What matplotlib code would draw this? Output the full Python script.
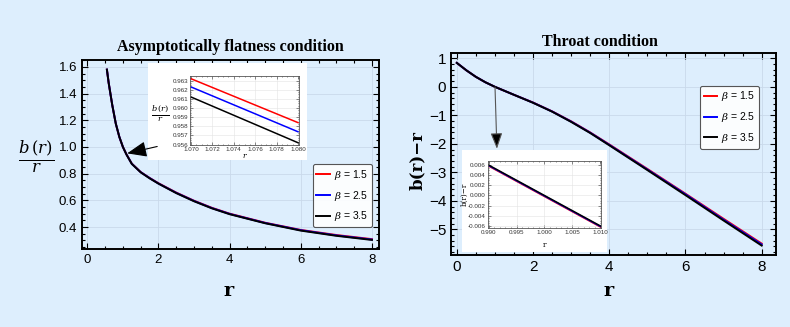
import matplotlib
matplotlib.use("Agg")
import matplotlib.pyplot as plt
from matplotlib.patches import Rectangle, FancyArrowPatch
from matplotlib.ticker import MultipleLocator, FormatStrFormatter

BG = "#ddeefd"
GRID = "#c9d9ea"

# ---------------- data ----------------
betas = ["1.5", "2.5", "3.5"]
colors = ["#ff0000", "#0000ff", "#000000"]

# left main: b(r)/r
r_left = [0.55, 0.6, 0.7, 0.8, 0.9, 1.0, 1.1, 1.25, 1.5, 1.75, 2.0, 2.5, 3.0, 3.5, 4.0, 5.0, 6.0, 7.0, 8.0]
bl_red = [1.58, 1.48, 1.315, 1.175, 1.075, 1.0, 0.945, 0.875, 0.812, 0.768, 0.728, 0.658, 0.597, 0.544, 0.500, 0.432, 0.378, 0.340, 0.309]
bl_blue = [1.58, 1.48, 1.315, 1.175, 1.075, 1.0, 0.944, 0.874, 0.811, 0.767, 0.726, 0.656, 0.595, 0.542, 0.498, 0.430, 0.376, 0.337, 0.306]
bl_black = [1.58, 1.48, 1.315, 1.175, 1.075, 1.0, 0.943, 0.873, 0.810, 0.765, 0.725, 0.654, 0.593, 0.540, 0.496, 0.428, 0.373, 0.334, 0.303]

# left inset
r_in_l = [1.070, 1.080]
il_red = [0.9632, 0.9584]
il_blue = [0.9623, 0.9574]
il_black = [0.9612, 0.9562]

# right main: b(r) - r
r_right = [0.0, 0.25, 0.5, 0.75, 1.0, 1.5, 2.0, 2.5, 3.0, 3.5, 4.0, 5.0, 6.0, 7.0, 8.0]
br_red = [0.84, 0.58, 0.35, 0.16, 0.0, -0.28, -0.55, -0.86, -1.21, -1.60, -2.02, -2.88, -3.75, -4.63, -5.50]
br_blue = [0.84, 0.58, 0.35, 0.16, 0.0, -0.28, -0.555, -0.865, -1.22, -1.61, -2.035, -2.90, -3.77, -4.66, -5.53]
br_black = [0.84, 0.58, 0.35, 0.16, 0.0, -0.28, -0.56, -0.87, -1.23, -1.62, -2.05, -2.92, -3.80, -4.69, -5.57]

# right inset
r_in_r = [0.990, 1.010]
ir_red = [0.0058, -0.0062]
ir_blue = [0.0059, -0.0061]
ir_black = [0.0060, -0.0060]

plt.rcParams["font.family"] = ["Liberation Sans", "DejaVu Sans"]
plt.rcParams["mathtext.fontset"] = "dejavuserif"

fig = plt.figure(figsize=(7.9, 3.27), dpi=100)
fig.patch.set_facecolor(BG)


def style_axes(ax, lw=1.4, size=9.5, major_len=4, minor_len=2):
    ax.set_facecolor(BG)
    for s in ax.spines.values():
        s.set_linewidth(lw)
        s.set_color("black")
    ax.tick_params(which="both", direction="in", top=True, right=True, labelsize=size, width=0.8)
    ax.tick_params(which="major", length=major_len)
    ax.tick_params(which="minor", length=minor_len)
    ax.grid(True, which="major", color=GRID, lw=0.6)
    ax.set_axisbelow(True)


def style_inset(ax, size=4.5):
    ax.set_facecolor("white")
    for s in ax.spines.values():
        s.set_linewidth(0.6)
        s.set_color("#555555")
    ax.tick_params(which="both", direction="in", top=True, right=True, labelsize=size, width=0.4, pad=1.5,
                   colors="#333333")
    ax.tick_params(which="major", length=2)
    ax.tick_params(which="minor", length=1)
    ax.grid(True, which="major", color="#e4e4e4", lw=0.4)
    ax.set_axisbelow(True)


def arrow(p0, p1, color, scale, hw):
    a = FancyArrowPatch(p0, p1, transform=fig.transFigure,
                        arrowstyle="-|>,head_length=0.8,head_width=%.2f" % hw, mutation_scale=scale,
                        color=color, lw=0.8, zorder=8, shrinkA=0, shrinkB=0)
    a.set_facecolor("black")
    fig.patches.append(a)


def legend(ax, anchor, loc):
    leg = ax.legend(loc=loc, bbox_to_anchor=anchor, fontsize=7.5, handlelength=1.3,
                    fancybox=True, edgecolor="#444444", framealpha=0.9, borderpad=0.35,
                    labelspacing=0.65, handletextpad=0.4, borderaxespad=0)
    leg.get_frame().set_linewidth(0.8)
    return leg


# ---------------- left panel ----------------
axL = fig.add_axes([0.1038, 0.2385, 0.376, 0.578])
style_axes(axL)
for ys, c, b in zip([bl_red, bl_blue, bl_black], colors, betas):
    axL.plot(r_left, ys, color=c, lw=1.4, label=r"$\beta$ = " + b)
axL.set_xlim(-0.15, 8.2)
axL.set_ylim(0.235, 1.652)
axL.xaxis.set_major_locator(MultipleLocator(2))
axL.xaxis.set_minor_locator(MultipleLocator(0.5))
axL.yaxis.set_major_locator(MultipleLocator(0.2))
axL.yaxis.set_minor_locator(MultipleLocator(0.05))
axL.yaxis.set_major_formatter(FormatStrFormatter("%.1f"))
fig.text(230 / 790, 1 - 47 / 327, "Asymptotically flatness condition", fontsize=11.5, fontweight="bold",
         family="Liberation Serif", ha="center", va="center")
fig.text(0.29, 0.11, "r", fontsize=14, fontweight="bold", family="DejaVu Serif", ha="center", va="center")
fig.text(0.046, 0.52, r"$\mathbf{\frac{\it{b}\,(\it{r})}{\it{r}}}$", fontsize=17, ha="center", va="center")
legend(axL, (0.976, 0.116), "lower right")

# white box behind inset
fig.patches.append(Rectangle((0.187, 0.511), 0.201, 0.296, transform=fig.transFigure,
                             facecolor="white", edgecolor="none", zorder=5))
insL = fig.add_axes([0.2405, 0.5566, 0.138, 0.211], zorder=6)
style_inset(insL)
for ys, c in zip([il_red, il_blue, il_black], colors):
    insL.plot(r_in_l, ys, color=c, lw=1.1)
insL.set_xlim(1.0699, 1.0801)
insL.set_ylim(0.95595, 0.9635)
insL.xaxis.set_major_locator(MultipleLocator(0.002))
insL.xaxis.set_minor_locator(MultipleLocator(0.0005))
insL.yaxis.set_major_locator(MultipleLocator(0.001))
insL.yaxis.set_minor_locator(MultipleLocator(0.00025))
insL.xaxis.set_major_formatter(FormatStrFormatter("%.3f"))
insL.yaxis.set_major_formatter(FormatStrFormatter("%.3f"))
fig.text(0.309, 0.522, "r", fontsize=5.5, style="italic", family="DejaVu Serif", ha="center", va="center",
         zorder=7)
fig.text(0.2025, 0.655, r"$\mathbf{\frac{\it{b}\,(\it{r})}{\it{r}}}$", fontsize=8.5,
         ha="center", va="center", zorder=7)

arrow((0.199, 0.552), (0.161, 0.531), "black", 15, 0.32)

# ---------------- right panel ----------------
axR = fig.add_axes([0.571, 0.2202, 0.411, 0.618])
style_axes(axR, size=11)
for ys, c, b in zip([br_red, br_blue, br_black], colors, betas):
    axR.plot(r_right, ys, color=c, lw=1.4, label=r"$\beta$ = " + b)
axR.set_xlim(-0.15, 8.37)
axR.set_ylim(-5.9, 1.19)
axR.xaxis.set_major_locator(MultipleLocator(2))
axR.xaxis.set_minor_locator(MultipleLocator(0.5))
axR.yaxis.set_major_locator(MultipleLocator(1))
axR.yaxis.set_minor_locator(MultipleLocator(0.2))
fig.text(600 / 790, 1 - 42 / 327, "Throat condition", fontsize=11.5, fontweight="bold",
         family="Liberation Serif", ha="center", va="center")
fig.text(0.77, 0.11, "r", fontsize=14, fontweight="bold", family="DejaVu Serif", ha="center", va="center")
fig.text(0.529, 0.51, "b(r)\u2212r", fontsize=12, fontweight="bold", family="DejaVu Serif",
         rotation=90, ha="center", va="center")
legend(axR, (0.9486, 0.837), "upper right")

fig.patches.append(Rectangle((0.5848, 0.2294), 0.184, 0.312, transform=fig.transFigure,
                             facecolor="white", edgecolor="none", zorder=5))
insR = fig.add_axes([0.6177, 0.3028, 0.143, 0.205], zorder=6)
style_inset(insR)
for ys, c in zip([ir_red, ir_blue, ir_black], colors):
    insR.plot(r_in_r, ys, color=c, lw=1.1)
insR.set_xlim(0.9899, 1.0101)
insR.set_ylim(-0.0064, 0.0068)
insR.xaxis.set_major_locator(MultipleLocator(0.005))
insR.xaxis.set_minor_locator(MultipleLocator(0.001))
insR.yaxis.set_major_locator(MultipleLocator(0.002))
insR.yaxis.set_minor_locator(MultipleLocator(0.0005))
insR.xaxis.set_major_formatter(FormatStrFormatter("%.3f"))
insR.yaxis.set_major_formatter(FormatStrFormatter("%.3f"))
fig.text(0.689, 0.252, "r", fontsize=5.5, family="DejaVu Serif", ha="center", va="center", zorder=7)
fig.text(0.5885, 0.405, "b(r)\u2212r", fontsize=5.2, family="DejaVu Serif", rotation=90,
         ha="center", va="center", zorder=7)

arrow((0.6266, 0.734), (0.629, 0.545), "#555555", 12, 0.3)

fig.savefig("out.png", dpi=100, facecolor=BG)
